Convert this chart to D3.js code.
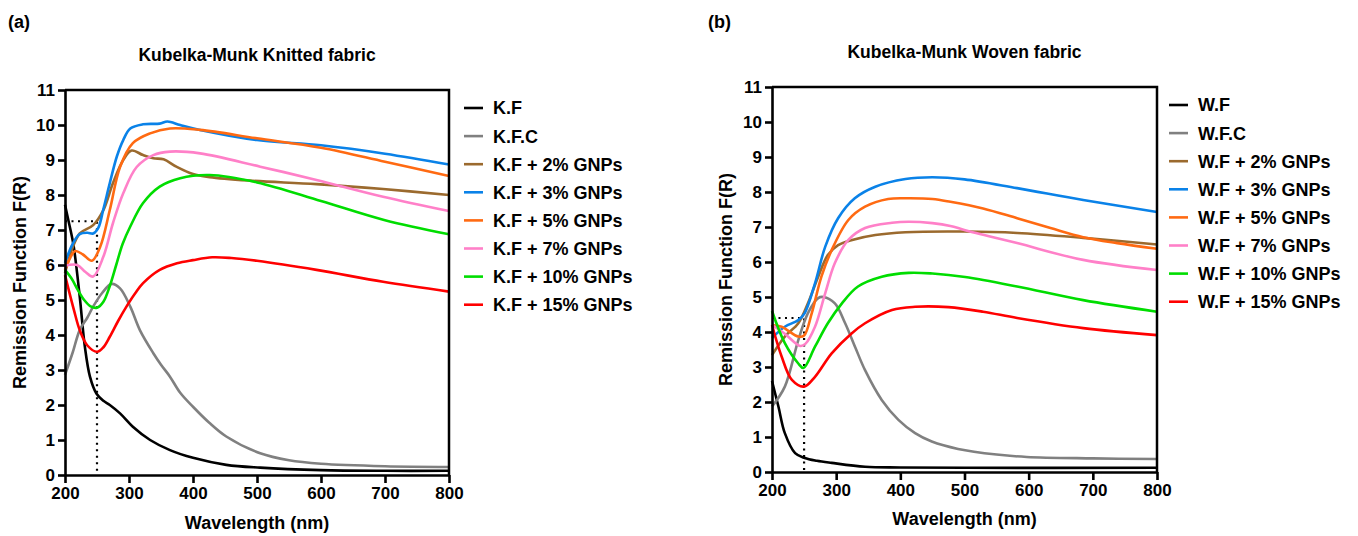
<!DOCTYPE html>
<html><head><meta charset="utf-8">
<script src="https://cdn.jsdelivr.net/npm/d3@7"></script>
<style>
body{margin:0;background:#fff;}
text{font-family:"Liberation Sans",Arial,Helvetica,sans-serif;font-weight:bold;fill:#000;}
</style></head>
<body><svg id="c" width="1358" height="536"></svg>
<script>
// ---------- data ----------
const xTicks = [200,300,400,500,600,700,800];
const yTicks = [0,1,2,3,4,5,6,7,8,9,10,11];
const seriesColors = ["#000000","#808080","#9B6A2E","#0A82E8","#FF6A12","#FF80C8","#00DD00","#FF0000"];
const knittedNames = ["K.F","K.F.C","K.F + 2% GNPs","K.F + 3% GNPs","K.F + 5% GNPs","K.F + 7% GNPs","K.F + 10% GNPs","K.F + 15% GNPs"];
const wovenNames = ["W.F","W.F.C","W.F + 2% GNPs","W.F + 3% GNPs","W.F + 5% GNPs","W.F + 7% GNPs","W.F + 10% GNPs","W.F + 15% GNPs"];

// Knitted fabric: [wavelength nm, F(R)]
const kF = [[200,7.72],[205,7.3],[213,6.6],[223,5.1],[231,3.67],[239,2.81],[249,2.33],[260,2.12],[270,2.0],[286,1.76],[306,1.38],[333,1.0],[364,0.71],[400,0.49],[452,0.29],[505,0.21],[600,0.14],[700,0.12],[800,0.12]];
const kFC = [[200,2.86],[212,3.5],[223,4.14],[235,4.5],[244,4.81],[258,5.2],[273,5.46],[286,5.33],[302,4.81],[317,4.14],[338,3.48],[350,3.15],[364,2.81],[380,2.35],[400,1.95],[425,1.5],[452,1.1],[505,0.62],[550,0.42],[600,0.32],[700,0.25],[800,0.23]];
const k2 = [[200,5.77],[212,6.5],[223,6.9],[244,7.14],[260,7.57],[275,8.34],[291,9.0],[304,9.27],[322,9.14],[338,9.05],[354,9.02],[374,8.81],[400,8.6],[426,8.51],[489,8.41],[593,8.31],[697,8.17],[800,8.0]];
const k3 = [[200,6.06],[212,6.6],[223,6.88],[235,6.92],[244,6.9],[252,7.06],[260,7.6],[270,8.34],[281,9.1],[291,9.57],[302,9.9],[322,10.02],[348,10.04],[360,10.1],[380,10.0],[411,9.86],[500,9.57],[600,9.42],[700,9.18],[800,8.87]];
const k5 = [[200,5.85],[208,6.2],[216,6.4],[228,6.3],[242,6.12],[255,6.52],[270,7.57],[286,8.8],[306,9.48],[333,9.76],[364,9.9],[411,9.86],[500,9.62],[600,9.35],[700,8.95],[800,8.54]];
const k7 = [[200,5.98],[219,6.0],[232,5.8],[244,5.67],[260,6.24],[275,7.2],[291,8.05],[312,8.8],[338,9.14],[364,9.24],[411,9.19],[505,8.81],[593,8.43],[697,7.95],[800,7.54]];
const k10 = [[200,5.86],[210,5.62],[220,5.29],[230,5.0],[240,4.82],[250,4.78],[260,4.95],[270,5.4],[280,6.0],[290,6.6],[302,7.1],[322,7.77],[348,8.24],[380,8.48],[426,8.57],[500,8.36],[600,7.83],[700,7.28],[800,6.88]];
const k15 = [[200,5.71],[214,4.71],[223,4.14],[235,3.7],[250,3.52],[260,3.65],[270,3.95],[283,4.4],[296,4.81],[310,5.2],[322,5.48],[348,5.86],[375,6.05],[400,6.14],[430,6.22],[460,6.2],[500,6.12],[593,5.86],[697,5.52],[800,5.24]];

// Woven fabric
const wF = [[200,2.6],[210,1.87],[220,1.11],[236,0.54],[251,0.4],[270,0.32],[293,0.26],[345,0.15],[400,0.13],[500,0.12],[800,0.12]];
const wFC = [[200,1.87],[220,2.44],[241,3.77],[256,4.54],[272,4.97],[280,5.0],[298,4.82],[314,4.25],[330,3.55],[345,2.91],[371,2.06],[397,1.49],[423,1.11],[449,0.87],[490,0.66],[550,0.5],[597,0.43],[700,0.39],[800,0.37]];
const w2 = [[200,3.34],[220,3.87],[241,4.25],[256,4.82],[272,5.58],[287,6.2],[303,6.48],[325,6.63],[361,6.77],[408,6.85],[500,6.87],[582,6.83],[685,6.69],[800,6.5]];
const w3 = [[200,3.83],[220,4.15],[241,4.34],[251,4.54],[267,5.39],[283,6.44],[303,7.25],[329,7.82],[361,8.15],[408,8.37],[450,8.42],[500,8.36],[582,8.11],[685,7.77],[800,7.43]];
const w5 = [[200,4.2],[215,4.15],[241,3.87],[250,3.9],[262,4.54],[277,5.58],[293,6.34],[319,7.2],[345,7.58],[381,7.8],[413,7.82],[450,7.8],[478,7.72],[529,7.53],[582,7.25],[634,6.97],[685,6.71],[738,6.54],[800,6.38]];
const w7 = [[200,4.2],[220,3.95],[244,3.6],[252,3.66],[267,4.15],[283,5.11],[298,5.97],[319,6.63],[345,6.97],[387,7.12],[413,7.15],[450,7.11],[478,7.03],[501,6.91],[582,6.54],[685,6.06],[800,5.77]];
const w10 = [[200,4.6],[220,3.68],[241,3.1],[249,2.97],[267,3.58],[287,4.25],[309,4.82],[334,5.3],[371,5.58],[413,5.69],[450,5.67],[501,5.57],[582,5.3],[685,4.91],[800,4.58]];
const w15 = [[200,4.2],[215,3.3],[231,2.63],[250,2.44],[267,2.72],[293,3.39],[324,3.96],[345,4.25],[387,4.63],[423,4.72],[475,4.71],[529,4.58],[582,4.4],[685,4.11],[800,3.91]];

// dotted guide lines: [wavelength, level]
const kGuide = [250, 7.25];
const wGuide = [250, 4.4];

// ---------- drawing ----------
const svg = d3.select("#c");

function panel(o){
  const g = svg.append("g");
  const x = d3.scaleLinear().domain([200,800]).range([o.left,o.right]);
  const y = d3.scaleLinear().domain([0,11]).range([o.bottom,o.top]);

  g.append("text").attr("x",o.letterX).attr("y",22).attr("dy","0.35em").style("font-size","18px").text(o.letter);
  g.append("text").attr("x",(o.left+o.right)/2).attr("y",o.titleY).attr("dy","0.35em").attr("text-anchor","middle").style("font-size","17.5px").text(o.title);

  const line = d3.line().x(d=>x(d[0])).y(d=>y(d[1])).curve(d3.curveCatmullRom.alpha(0.5));
  g.append("path").attr("d",`M${x(200)},${y(o.guide[1])}H${x(o.guide[0])}V${y(0)}`)
    .attr("fill","none").attr("stroke","#000").attr("stroke-width",2.2).attr("stroke-dasharray","2,4.5");
  o.series.forEach((s,i)=>{
    g.append("path").datum(s).attr("d",line).attr("fill","none")
      .attr("stroke",seriesColors[i]).attr("stroke-width",2.6).attr("stroke-linejoin","round");
  });

  g.append("path").attr("d",`M${o.left},${o.top}H${o.right}V${o.bottom}`).attr("fill","none").attr("stroke","#000").attr("stroke-width",2.5);

  const ya = g.append("g").attr("transform",`translate(${o.left},0)`)
    .call(d3.axisLeft(y).tickValues(yTicks).tickSize(7).tickSizeOuter(0).tickPadding(3));
  const xa = g.append("g").attr("transform",`translate(0,${o.bottom})`)
    .call(d3.axisBottom(x).tickValues(xTicks).tickSize(8).tickSizeOuter(0).tickPadding(4));
  [ya,xa].forEach(a=>{
    a.selectAll("path,line").attr("stroke","#000").attr("stroke-width",2.6);
    a.selectAll("text").style("font-size","17px").style("font-family",'"Liberation Sans",Arial,sans-serif').style("font-weight","bold").attr("fill","#000");
  });

  g.append("text").attr("x",(o.left+o.right)/2).attr("y",o.xLabelY).attr("dy","0.35em").attr("text-anchor","middle").style("font-size","18px").text("Wavelength (nm)");
  g.append("text").attr("transform",`translate(${o.yLabelX},${(o.top+o.bottom)/2}) rotate(-90)`).attr("dy","0.35em").attr("text-anchor","middle").style("font-size","18px").text("Remission Function F(R)");

  o.names.forEach((n,i)=>{
    const yy = o.legTop + i*28.1;
    g.append("line").attr("x1",o.legX).attr("x2",o.legX+19).attr("y1",yy).attr("y2",yy).attr("stroke",seriesColors[i]).attr("stroke-width",2.6);
    g.append("text").attr("x",o.legX+29).attr("y",yy).attr("dy","0.36em").style("font-size","18px").text(n);
  });
}

panel({left:65,right:449,top:90,bottom:475,letter:"(a)",letterX:8,title:"Kubelka-Munk Knitted fabric",titleY:55,
  xLabelY:523,yLabelX:20,legX:464,legTop:108,names:knittedNames,series:[kF,kFC,k2,k3,k5,k7,k10,k15],guide:kGuide});
panel({left:772,right:1157,top:87,bottom:472,letter:"(b)",letterX:708,title:"Kubelka-Munk Woven fabric",titleY:52,
  xLabelY:519,yLabelX:726,legX:1169,legTop:105,names:wovenNames,series:[wF,wFC,w2,w3,w5,w7,w10,w15],guide:wGuide});
</script></body></html>
